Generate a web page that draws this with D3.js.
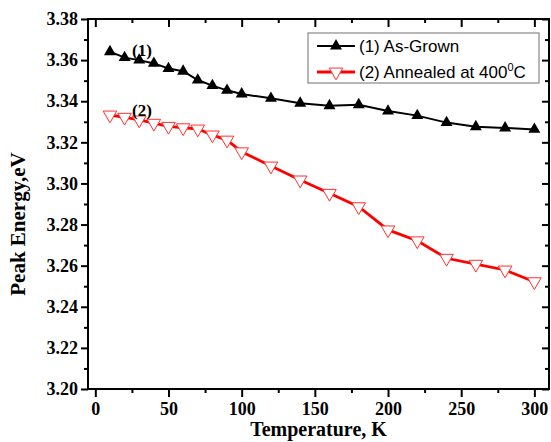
<!DOCTYPE html>
<html>
<head>
<meta charset="utf-8">
<script src="https://cdn.jsdelivr.net/npm/d3@7"></script>
<style>
  html, body { margin: 0; padding: 0; background: #fff; }
  svg { display: block; }
</style>
</head>
<body>
<svg id="chart" width="551" height="442"></svg>
<script>
const temps = [10, 20, 30, 40, 50, 60, 70, 80, 90, 100, 120, 140, 160, 180, 200, 220, 240, 260, 280, 300];
const asGrown = [3.3641, 3.3612, 3.3600, 3.3584, 3.3559, 3.3546, 3.3503, 3.3476, 3.3453, 3.3435,
                 3.3414, 3.3390, 3.3378, 3.3383, 3.3352, 3.3330, 3.3296, 3.3276, 3.3270, 3.3263];
const annealed = [3.3333, 3.3322, 3.3309, 3.3293, 3.3278, 3.3271, 3.3265, 3.3236, 3.3211, 3.3154,
                  3.3085, 3.3017, 3.2952, 3.2887, 3.2774, 3.2721, 3.2636, 3.2607, 3.2579, 3.2522];
const xMajor = [0, 50, 100, 150, 200, 250, 300];
const xMinor = [25, 75, 125, 175, 225, 275];
const yMajor = [3.20, 3.22, 3.24, 3.26, 3.28, 3.30, 3.32, 3.34, 3.36, 3.38];
const yMinor = [3.21, 3.23, 3.25, 3.27, 3.29, 3.31, 3.33, 3.35, 3.37];
const seriesNames = ["(1) As-Grown", "(2) Annealed at 400"];
const curveLabels = ["(1)", "(2)"];

const svg = d3.select("#chart");
const L = 88, R = 549, T = 19, B = 389;
const x = d3.scaleLinear().domain([-5, 310]).range([L, R]);
const y = d3.scaleLinear().domain([3.20, 3.38]).range([B, T]);

const serif = "'Liberation Serif','Times New Roman',serif";
const sans = "'Liberation Sans',Arial,sans-serif";

function styleAxis(g) {
  g.select(".domain").remove();
  g.selectAll(".tick line").attr("stroke", "#000").attr("stroke-width", 2);
  g.selectAll(".tick text").attr("font-family", serif).attr("font-weight", "bold")
    .attr("font-size", 18).attr("fill", "#000");
}

// bottom axis
svg.append("g").attr("transform", `translate(0,${B})`)
  .call(d3.axisBottom(x).tickValues(xMajor).tickSize(8).tickPadding(5).tickFormat(d3.format("d")))
  .call(styleAxis);
svg.append("g").attr("transform", `translate(0,${B})`)
  .call(d3.axisBottom(x).tickValues(xMinor).tickSize(4).tickFormat(""))
  .call(styleAxis);
// top axis (inward)
svg.append("g").attr("transform", `translate(0,${T})`)
  .call(d3.axisTop(x).tickValues(xMajor).tickSize(-8).tickFormat(""))
  .call(styleAxis);
svg.append("g").attr("transform", `translate(0,${T})`)
  .call(d3.axisTop(x).tickValues(xMinor).tickSize(-4).tickFormat(""))
  .call(styleAxis);
// left axis
svg.append("g").attr("transform", `translate(${L},0)`)
  .call(d3.axisLeft(y).tickValues(yMajor).tickSize(7).tickPadding(3).tickFormat(d3.format(".2f")))
  .call(styleAxis);
svg.append("g").attr("transform", `translate(${L},0)`)
  .call(d3.axisLeft(y).tickValues(yMinor).tickSize(4).tickFormat(""))
  .call(styleAxis);
// right axis (inward)
svg.append("g").attr("transform", `translate(${R},0)`)
  .call(d3.axisRight(y).tickValues(yMajor).tickSize(-7).tickFormat(""))
  .call(styleAxis);
svg.append("g").attr("transform", `translate(${R},0)`)
  .call(d3.axisRight(y).tickValues(yMinor).tickSize(-4).tickFormat(""))
  .call(styleAxis);

// frame
svg.append("rect").attr("x", L).attr("y", T).attr("width", R - L).attr("height", B - T)
  .attr("fill", "none").attr("stroke", "#000").attr("stroke-width", 2);

const line = d3.line().x(d => x(d[0])).y(d => y(d[1]));
const d1 = temps.map((t, i) => [t, asGrown[i]]);
const d2 = temps.map((t, i) => [t, annealed[i]]);

const triUp = d3.symbol().type(d3.symbolTriangle).size(62);
const triDown = d3.symbol().type(d3.symbolTriangle).size(80);

// series 2 (red)
svg.append("path").datum(d2).attr("d", line).attr("fill", "none")
  .attr("stroke", "#ff0000").attr("stroke-width", 2.8);
svg.append("g").selectAll("path").data(d2).join("path")
  .attr("d", triDown)
  .attr("transform", d => `translate(${x(d[0])},${y(d[1])}) rotate(180)`)
  .attr("fill", "#fff").attr("stroke", "#ff3030").attr("stroke-width", 1);

// series 1 (black)
svg.append("path").datum(d1).attr("d", line).attr("fill", "none")
  .attr("stroke", "#000").attr("stroke-width", 2);
svg.append("g").selectAll("path").data(d1).join("path")
  .attr("d", triUp)
  .attr("transform", d => `translate(${x(d[0])},${y(d[1])})`)
  .attr("fill", "#000");

// curve labels
svg.append("text").attr("x", 142).attr("y", 56).attr("text-anchor", "middle")
  .attr("font-family", serif).attr("font-weight", "bold").attr("font-size", 17).text(curveLabels[0]);
svg.append("text").attr("x", 142).attr("y", 116).attr("text-anchor", "middle")
  .attr("font-family", serif).attr("font-weight", "bold").attr("font-size", 17).text(curveLabels[1]);

// legend
const lg = svg.append("g");
lg.append("rect").attr("x", 308).attr("y", 33).attr("width", 231).attr("height", 50)
  .attr("fill", "#fff").attr("stroke", "#888").attr("stroke-width", 1.2);
const rows = [46, 72];
lg.append("line").attr("x1", 317).attr("x2", 355).attr("y1", rows[0]).attr("y2", rows[0])
  .attr("stroke", "#000").attr("stroke-width", 2);
lg.append("path").attr("d", triUp).attr("transform", `translate(336,${rows[0]})`).attr("fill", "#000");
lg.append("line").attr("x1", 317).attr("x2", 355).attr("y1", rows[1]).attr("y2", rows[1])
  .attr("stroke", "#ff0000").attr("stroke-width", 2.8);
lg.append("path").attr("d", triDown).attr("transform", `translate(336,${rows[1]}) rotate(180)`)
  .attr("fill", "#fff").attr("stroke", "#ff3030").attr("stroke-width", 1);
lg.append("text").attr("x", 359).attr("y", rows[0] + 6)
  .attr("font-family", sans).attr("font-size", 17).text(seriesNames[0]);
const t2 = lg.append("text").attr("x", 359).attr("y", rows[1] + 6)
  .attr("font-family", sans).attr("font-size", 17);
t2.append("tspan").text(seriesNames[1]);
t2.append("tspan").attr("dy", -7).attr("font-size", 11).text("0");
t2.append("tspan").attr("dy", 7).text("C");

// axis titles
svg.append("text").attr("x", (L + R) / 2).attr("y", 436).attr("text-anchor", "middle")
  .attr("font-family", serif).attr("font-weight", "bold").attr("font-size", 20).text("Temperature, K");
svg.append("text").attr("transform", `translate(25,${(T + B) / 2 + 20}) rotate(-90)`)
  .attr("text-anchor", "middle")
  .attr("font-family", serif).attr("font-weight", "bold").attr("font-size", 21).text("Peak Energy,eV");
</script>
</body>
</html>
